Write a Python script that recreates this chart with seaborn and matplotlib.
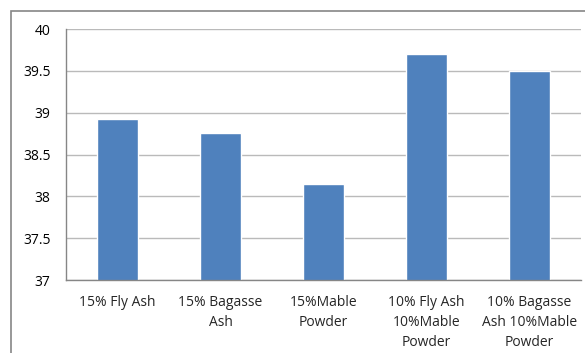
import pandas as pd
import matplotlib.pyplot as plt
import seaborn as sns
from matplotlib.patches import Rectangle

# Chart data
categories = ["15% Fly Ash", "15% Bagasse\nAsh", "15%Mable\nPowder",
              "10% Fly Ash\n10%Mable\nPowder", "10% Bagasse\nAsh 10%Mable\nPowder"]
values = [38.92, 38.76, 38.15, 39.70, 39.50]
y_ticks = [37, 37.5, 38, 38.5, 39, 39.5, 40]
y_tick_labels = ["37", "37.5", "38", "38.5", "39", "39.5", "40"]

df = pd.DataFrame({"Mix": categories, "Value": values})

sns.set_theme(style="white")
plt.rcParams["font.family"] = ["Open Sans", "DejaVu Sans"]

fig = plt.figure(figsize=(5.85, 3.53), dpi=100)
ax = fig.add_axes([66 / 585, 1 - 280 / 353, (581 - 66) / 585, (280 - 29) / 353])

sns.barplot(data=df, x="Mix", y="Value", color="#4F81BD", saturation=1,
            width=0.4, ax=ax, zorder=3)

ax.set_ylim(37, 40)
ax.set_xlim(-0.5, len(categories) - 0.5)
ax.set_yticks(y_ticks)
ax.set_yticklabels(y_tick_labels, fontsize=10, color="#000000")
ax.set_xticks(range(len(categories)))
ax.set_xticklabels(categories, fontsize=10, linespacing=1.42)
ax.set_xticks([i + 0.5 for i in range(len(categories) - 1)], minor=True)
ax.tick_params(axis="x", which="major", length=0, pad=11)
ax.tick_params(axis="x", which="minor", length=5, color="#868686", width=1, direction="out")
ax.tick_params(axis="y", length=5, color="#868686", width=1, direction="out", pad=6)
ax.set_xlabel("")
ax.set_ylabel("")

ax.grid(axis="y", color="#BABABA", linewidth=1, zorder=0)
for side in ["top", "right"]:
    ax.spines[side].set_visible(False)
for side in ["left", "bottom"]:
    ax.spines[side].set_color("#868686")
    ax.spines[side].set_linewidth(1)
    ax.spines[side].set_zorder(4)

# Outer chart border (cropped on the right and bottom)
fig.patches.append(Rectangle((11 / 585, -0.1), 1.2, 1 - 11 / 353 + 0.1,
                             transform=fig.transFigure, fill=False,
                             edgecolor="#868686", linewidth=1.2, clip_on=False))

fig.savefig("out.png", dpi=100)
